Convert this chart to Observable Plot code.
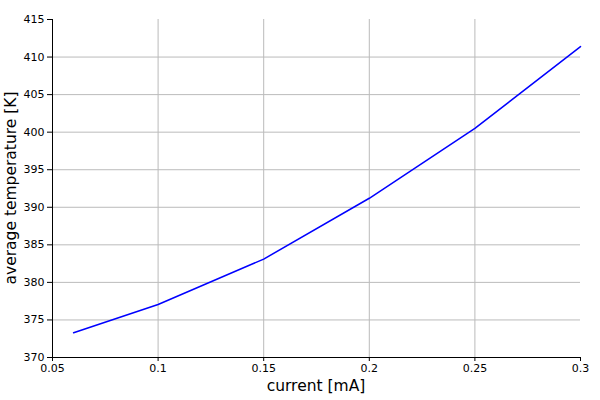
<!DOCTYPE html>
<html>
<head>
<meta charset="utf-8">
<script src="https://cdn.jsdelivr.net/npm/d3@7"></script>
<script src="https://cdn.jsdelivr.net/npm/@observablehq/plot@0.6"></script>
<style>
  body { margin: 0; background: #fff; }
  #chart svg { display: block; }
</style>
</head>
<body>
<div id="chart"></div>
<script>
// values
const current = [0.06, 0.1, 0.15, 0.2, 0.25, 0.3];        // mA
const temperature = [373.3, 377.05, 383.1, 391.2, 400.5, 411.4]; // K

const xTicks = [0.05, 0.1, 0.15, 0.2, 0.25, 0.3];
const yTicks = [370, 375, 380, 385, 390, 395, 400, 405, 410, 415];
const xGrid = [0.1, 0.15, 0.2, 0.25];
const yGrid = [375, 380, 385, 390, 395, 400, 405, 410];

const renderChart = () => {
    const rows = current.map((c, i) => ({current: c, temperature: temperature[i]}));

    const chart = Plot.plot({
        width: 600,
        height: 400,
        marginLeft: 52,
        marginRight: 20,
        marginTop: 19,
        marginBottom: 43,
        style: {fontFamily: '"DejaVu Sans", sans-serif', fontSize: "11px", color: "#000"},
        x: {domain: [0.05, 0.3]},
        y: {domain: [370, 415]},
        marks: [
            Plot.gridX(xGrid, {stroke: "#bbb", strokeOpacity: 1}),
            Plot.gridY(yGrid, {stroke: "#bbb", strokeOpacity: 1}),
            Plot.axisX(xTicks, {
                tickSize: 4,
                tickPadding: 3,
                tickFormat: (d) => String(d),
                label: null
            }),
            Plot.axisY(yTicks, {
                tickSize: 5,
                tickPadding: 3,
                label: null
            }),
            Plot.ruleX([0.05], {stroke: "#000"}),
            Plot.ruleY([370], {stroke: "#000"}),
            Plot.line(rows, {x: "current", y: "temperature", stroke: "#0000ff", strokeWidth: 1.5})
        ]
    });

    // axis titles as plain text on the svg
    const svg = d3.select(chart);
    svg.append("text")
        .attr("x", 316)
        .attr("y", 391)
        .attr("text-anchor", "middle")
        .attr("font-size", 15.5)
        .attr("fill", "#000")
        .text("current [mA]");
    svg.append("text")
        .attr("transform", `translate(16,${19 + (400 - 19 - 43) / 2}) rotate(-90)`)
        .attr("text-anchor", "middle")
        .attr("font-size", 15.5)
        .attr("fill", "#000")
        .text("average temperature [K]");

    document.getElementById("chart").append(chart);
};

if (document.readyState === "loading") {
    document.addEventListener("DOMContentLoaded", renderChart);
} else {
    renderChart();
}
</script>
</body>
</html>
